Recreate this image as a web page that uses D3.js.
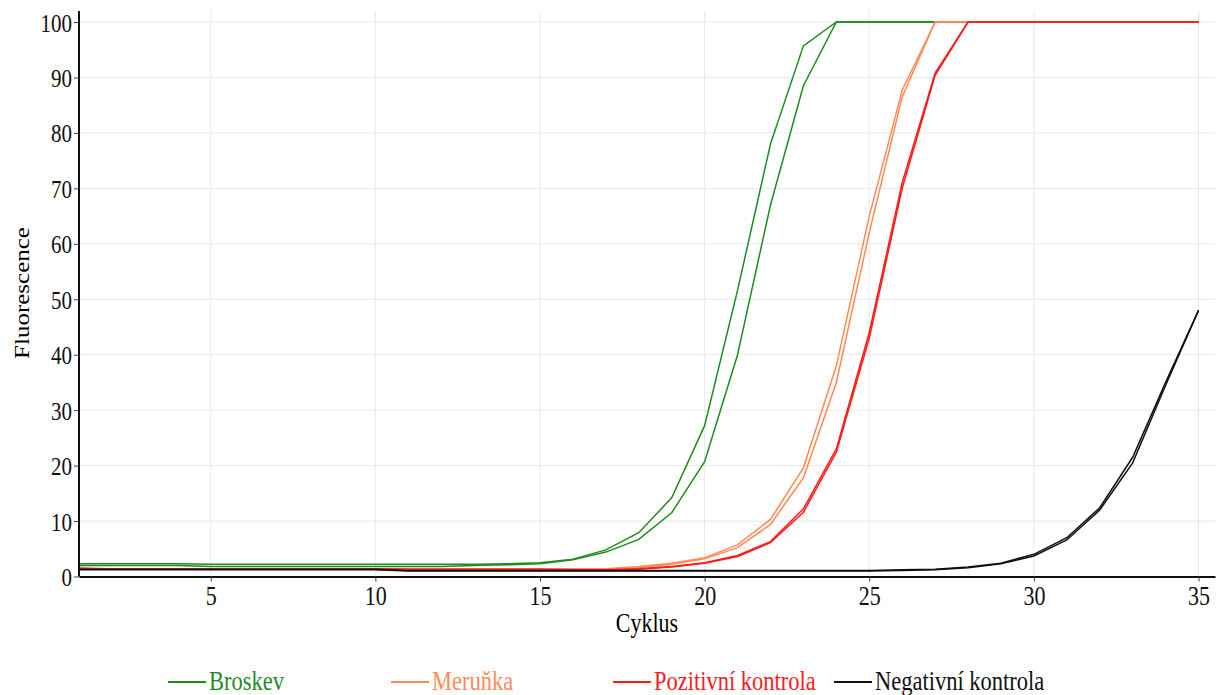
<!DOCTYPE html>
<html>
<head>
<meta charset="utf-8">
<script src="https://cdn.jsdelivr.net/npm/d3@7"></script>
<style>
  body { margin: 0; background: #fff; }
  text { font-family: "Liberation Serif", "Times New Roman", serif; }
</style>
</head>
<body>
<div id="chart"></div>
<script>
// cycles on the x-axis
var cycles = [1,2,3,4,5,6,7,8,9,10,11,12,13,14,15,16,17,18,19,20,21,22,23,24,25,26,27,28,29,30,31,32,33,34,35];

var xTicks = [5,10,15,20,25,30,35];
var yTicks = [0,10,20,30,40,50,60,70,80,90,100];

// two replicates per sample
var broskevA = [2.3,2.3,2.3,2.3,2.2,2.2,2.2,2.2,2.2,2.2,2.2,2.2,2.2,2.3,2.5,3.1,4.8,7.9,14.2,27.2,51.6,78,95.7,100,100,100,100,100,100,100,100,100,100,100,100];
var broskevB = [2.0,2.0,2.0,2.0,1.8,1.8,1.8,1.8,1.8,1.8,1.8,1.8,2.0,2.1,2.3,3.0,4.4,6.7,11.5,20.7,40,67,88.5,100,100,100,100,100,100,100,100,100,100,100,100];
var merunkaA = [1.4,1.4,1.4,1.4,1.4,1.4,1.4,1.4,1.4,1.4,1.4,1.4,1.4,1.4,1.4,1.4,1.4,1.8,2.4,3.4,5.7,10.3,19.6,38,65,87.7,100,100,100,100,100,100,100,100,100];
var merunkaB = [1.3,1.3,1.3,1.3,1.3,1.3,1.3,1.3,1.3,1.3,1.3,1.3,1.3,1.3,1.3,1.3,1.3,1.6,2.2,3.2,5.2,9.4,17.8,35,62,86.5,100,100,100,100,100,100,100,100,100];
var pozitivniA = [1.5,1.4,1.4,1.4,1.4,1.4,1.4,1.4,1.4,1.4,1.3,1.3,1.3,1.3,1.3,1.2,1.2,1.4,1.8,2.5,3.8,6.3,12.2,23,44,71,90.8,100,100,100,100,100,100,100,100];
var pozitivniB = [1.5,1.3,1.3,1.3,1.3,1.3,1.3,1.3,1.3,1.3,1.2,1.2,1.2,1.2,1.2,1.1,1.1,1.3,1.7,2.4,3.6,6.1,11.6,22.4,43,70,90.4,100,100,100,100,100,100,100,100];
var negativniA = [1.3,1.3,1.3,1.3,1.3,1.3,1.3,1.3,1.3,1.3,1.1,1.1,1.1,1.1,1.1,1.1,1.1,1.1,1.1,1.1,1.1,1.1,1.1,1.1,1.1,1.2,1.3,1.7,2.4,4.0,7.0,12.4,21.5,35,48];
var negativniB = [1.2,1.2,1.2,1.2,1.2,1.2,1.2,1.2,1.2,1.2,1.0,1.0,1.0,1.0,1.0,1.0,1.0,1.0,1.0,1.0,1.0,1.0,1.0,1.0,1.0,1.1,1.2,1.6,2.3,3.7,6.6,12.0,20.5,34.5,48];

var samples = ["Broskev", "Meruňka", "Pozitivní kontrola", "Negativní kontrola"];
var sampleColors = ["#1e8c1e", "#ff8a55", "#ff1a1a", "#111111"];

var series = [
  { name: "Broskev", values: broskevA },
  { name: "Broskev", values: broskevB },
  { name: "Meruňka", values: merunkaA },
  { name: "Meruňka", values: merunkaB },
  { name: "Pozitivní kontrola", values: pozitivniA },
  { name: "Pozitivní kontrola", values: pozitivniB },
  { name: "Negativní kontrola", values: negativniA },
  { name: "Negativní kontrola", values: negativniB }
];

var width = 1219, height = 695;
var margin = { top: 11, left: 79, right: 4, bottom: 118 };
// the original text is a little taller than wide
var stretch = 1.22;

var svg = d3.select("#chart").append("svg")
  .attr("width", width)
  .attr("height", height);

var colourScale = d3.scaleOrdinal().domain(samples).range(sampleColors);

var xScale = d3.scaleLinear().domain([1, 35.5]).range([margin.left, width - margin.right]);
var yScale = d3.scaleLinear().domain([0, 100]).range([576.5, 22]);

// grid
svg.append("g").selectAll("line.vgrid")
  .data(xTicks).enter().append("line")
  .attr("x1", function(d) { return xScale(d); })
  .attr("x2", function(d) { return xScale(d); })
  .attr("y1", margin.top)
  .attr("y2", yScale(0))
  .attr("stroke", "#e8e8e8")
  .attr("stroke-width", 1);

svg.append("g").selectAll("line.hgrid")
  .data(yTicks.slice(1)).enter().append("line")
  .attr("x1", margin.left)
  .attr("x2", width - margin.right)
  .attr("y1", function(d) { return yScale(d); })
  .attr("y2", function(d) { return yScale(d); })
  .attr("stroke", "#e8e8e8")
  .attr("stroke-width", 1);

// curves
var line = d3.line()
  .x(function(d, i) { return xScale(cycles[i]); })
  .y(function(d) { return yScale(d); });

svg.append("g").selectAll("path")
  .data(series).enter().append("path")
  .attr("d", function(d) { return line(d.values); })
  .attr("fill", "none")
  .attr("stroke", function(d) { return colourScale(d.name); })
  .attr("stroke-width", 1.5);

// axes
var xAxis = d3.axisBottom(xScale).tickValues(xTicks).tickSize(5).tickSizeOuter(0);
var gx = svg.append("g")
  .attr("transform", "translate(0," + yScale(0) + ")")
  .call(xAxis);
gx.select(".domain").attr("stroke", "#111").attr("stroke-width", 2);
gx.selectAll(".tick line").attr("stroke", "#444");
gx.selectAll("text")
  .attr("y", 0)
  .attr("dy", 0)
  .attr("transform", "translate(0,28.5) scale(1," + stretch + ")")
  .style("font-family", "Liberation Serif")
  .style("font-size", "22px")
  .attr("fill", "#111");

var yAxis = d3.axisLeft(yScale).tickValues(yTicks).tickSize(5).tickSizeOuter(0);
var gy = svg.append("g")
  .attr("transform", "translate(" + margin.left + ",0)")
  .call(yAxis);
gy.select(".domain").attr("d", "M0," + margin.top + "V" + yScale(0))
  .attr("stroke", "#111").attr("stroke-width", 2);
gy.selectAll(".tick line").attr("stroke", "#444");
gy.selectAll("text")
  .attr("x", 0)
  .attr("dy", 0)
  .attr("transform", "translate(-7,9) scale(1," + stretch + ")")
  .style("font-family", "Liberation Serif")
  .style("font-size", "21px")
  .attr("fill", "#111");

// axis titles
svg.append("text")
  .attr("transform", "translate(647,632) scale(1," + stretch + ")")
  .attr("text-anchor", "middle")
  .style("font-size", "22px")
  .text("Cyklus");

svg.append("text")
  .attr("transform", "translate(29,293) rotate(-90) scale(" + stretch + ",1)")
  .attr("text-anchor", "middle")
  .style("font-size", "20.5px")
  .text("Fluorescence");

// legend
var legendX = [168, 391, 613, 834];
var legend = svg.append("g").selectAll("g")
  .data(samples).enter().append("g")
  .attr("transform", function(d, i) { return "translate(" + legendX[i] + ",682)"; });

legend.append("line")
  .attr("x1", 0).attr("x2", 38)
  .attr("y1", 0).attr("y2", 0)
  .attr("stroke", function(d) { return colourScale(d); })
  .attr("stroke-width", 2);

legend.append("text")
  .attr("transform", "translate(41,8) scale(1," + stretch + ")")
  .style("font-size", "22.5px")
  .attr("fill", function(d) { return colourScale(d); })
  .text(function(d) { return d; });
</script>
</body>
</html>
